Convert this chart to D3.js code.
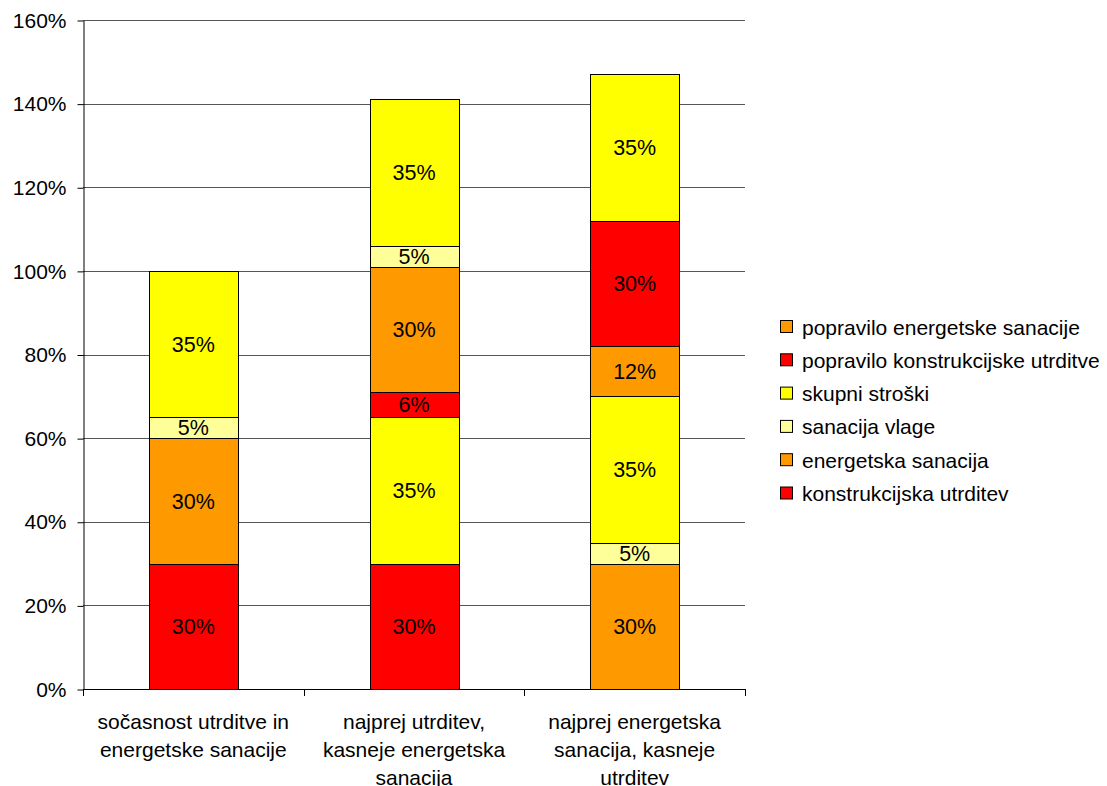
<!DOCTYPE html>
<html>
<head>
<meta charset="utf-8">
<script src="https://cdn.jsdelivr.net/npm/d3@7/dist/d3.min.js"></script>
<style>
  body { margin: 0; background: #fff; }
  svg { display: block; font-family: "Liberation Sans", Arial, sans-serif; }
</style>
</head>
<body>
<svg id="chart" width="1107" height="786"></svg>
<script>
// ---- data ----
const categories = ["sočasnost utrditve in energetske sanacije", "najprej utrditev, kasneje energetska sanacija", "najprej energetska sanacija, kasneje utrditev"];
const categoryLines = [
  ["sočasnost utrditve in", "energetske sanacije"],
  ["najprej utrditev,", "kasneje energetska", "sanacija"],
  ["najprej energetska", "sanacija, kasneje", "utrditev"]
];
const seriesKeys = ["konstr", "energ", "vlage", "skupni", "poprKonstr", "poprEnerg", "konstr2", "vlage2", "skupni2"];
const konstr     = [30, 30, 0];
const energ      = [30, 0, 30];
const vlage      = [5, 0, 5];
const skupni     = [35, 35, 35];
const poprKonstr = [0, 6, 0];
const poprEnerg  = [0, 30, 12];
const konstr2    = [0, 0, 30];
const vlage2     = [0, 5, 0];
const skupni2    = [0, 35, 35];
const yTicks = [0, 20, 40, 60, 80, 100, 120, 140, 160];
const legendNames = ["popravilo energetske sanacije", "popravilo konstrukcijske utrditve", "skupni stroški", "sanacija vlage", "energetska sanacija", "konstrukcijska utrditev"];
const legendKeys = ["poprEnerg", "poprKonstr", "skupni", "vlage", "energ", "konstr"];

// ---- styles ----
const RED = "#FF0000", ORANGE = "#FF9900", LY = "#FFFF99", YEL = "#FFFF00";
const colors = { konstr: RED, energ: ORANGE, vlage: LY, skupni: YEL, poprKonstr: RED, poprEnerg: ORANGE, konstr2: RED, vlage2: LY, skupni2: YEL };
const seriesValues = { konstr, energ, vlage, skupni, poprKonstr, poprEnerg, konstr2, vlage2, skupni2 };

const table = categories.map((c, i) => {
  const row = { cat: c };
  seriesKeys.forEach(k => row[k] = seriesValues[k][i]);
  return row;
});

const svg = d3.select("#chart");
const pLeft = 83, pRight = 745, pTop = 20, pBottom = 689;

const x = d3.scaleBand().domain(categories).range([pLeft, pRight]).padding(0);
const y = d3.scaleLinear().domain([0, 160]).range([pBottom, pTop]);

// gridlines
svg.append("g").selectAll("line").data(yTicks.filter(d => d > 0)).join("line")
  .attr("x1", pLeft).attr("x2", pRight)
  .attr("y1", d => Math.round(y(d)) + 0.5).attr("y2", d => Math.round(y(d)) + 0.5)
  .attr("stroke", "#555").attr("stroke-width", 1);

// y axis
const yAxis = d3.axisLeft(y).tickValues(yTicks).tickFormat(d => d + "%").tickSizeInner(6).tickSizeOuter(0).tickPadding(11);
const gy = svg.append("g").attr("transform", `translate(${pLeft + 0.5},0.5)`).call(yAxis);
gy.select(".domain").attr("stroke", "#000");
gy.selectAll(".tick line").attr("stroke", "#000");
gy.selectAll(".tick text").attr("font-size", 21).attr("fill", "#000").attr("font-family", "Liberation Sans, Arial, sans-serif");

// stacked bars
const stack = d3.stack().keys(seriesKeys);
const stacked = stack(table);
const barW = x.bandwidth() * 0.403;

const layers = svg.append("g").selectAll("g").data(stacked).join("g")
  .attr("fill", d => colors[d.key]);

layers.selectAll("rect").data(d => d.filter(s => s[1] - s[0] > 0)).join("rect")
  .attr("x", s => Math.round(x(s.data.cat) + (x.bandwidth() - barW) / 2) + 0.5)
  .attr("width", Math.round(barW))
  .attr("y", s => Math.round(y(s[1])) + 0.5)
  .attr("height", s => Math.round(y(s[0])) - Math.round(y(s[1])))
  .attr("stroke", "#000").attr("stroke-width", 1);

layers.selectAll("text").data(d => d.filter(s => s[1] - s[0] > 0)).join("text")
  .attr("x", s => x(s.data.cat) + x.bandwidth() / 2)
  .attr("y", s => (y(s[0]) + y(s[1])) / 2)
  .attr("dy", "0.36em")
  .attr("text-anchor", "middle")
  .attr("font-size", 21.5)
  .attr("fill", "#000")
  .text(s => (s[1] - s[0]) + "%");

// x axis
svg.append("line").attr("x1", pLeft).attr("x2", pRight)
  .attr("y1", pBottom + 0.5).attr("y2", pBottom + 0.5).attr("stroke", "#000");
const boundaries = categories.map(c => x(c)).concat([x(categories[categories.length - 1]) + x.bandwidth()]);
svg.append("g").selectAll("line").data(boundaries).join("line")
  .attr("x1", d => Math.round(d) + 0.5).attr("x2", d => Math.round(d) + 0.5)
  .attr("y1", pBottom).attr("y2", pBottom + 7).attr("stroke", "#000");

const catG = svg.append("g").selectAll("text").data(categories).join("text")
  .attr("text-anchor", "middle")
  .attr("font-size", 21)
  .attr("fill", "#000");
catG.each(function(c, i) {
  const t = d3.select(this);
  categoryLines[i].forEach((line, j) => {
    t.append("tspan").attr("x", x(c) + x.bandwidth() / 2).attr("y", 729 + j * 28).text(line);
  });
});

// legend
const lg = svg.append("g").selectAll("g").data(legendNames).join("g")
  .attr("transform", (d, i) => `translate(780, ${327 + i * 33.3})`);
lg.append("rect").attr("x", 0.5).attr("y", -6.5).attr("width", 12).attr("height", 12)
  .attr("fill", (d, i) => colors[legendKeys[i]]).attr("stroke", "#000");
lg.append("text").attr("x", 22).attr("y", 0).attr("dy", "0.36em")
  .attr("font-size", 21).attr("fill", "#000").text(d => d);
</script>
</body>
</html>
